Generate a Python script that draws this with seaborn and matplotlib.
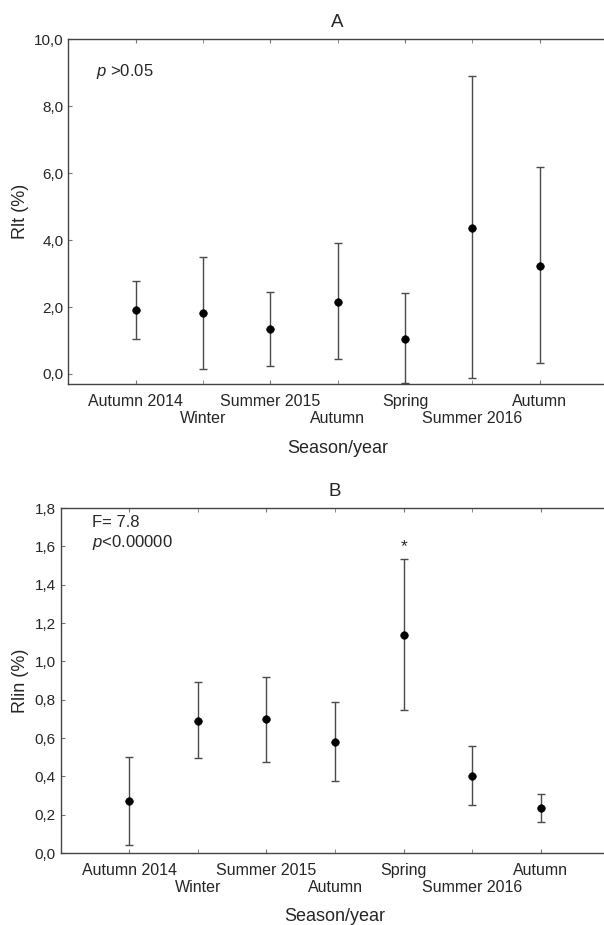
import numpy as np
import pandas as pd
import matplotlib
matplotlib.use("Agg")
import matplotlib.pyplot as plt
import seaborn as sns
from matplotlib.ticker import FuncFormatter, MultipleLocator, FixedLocator, FixedFormatter

# Season labels (shared by both panels)
seasons = ["Autumn 2014", "Winter", "Summer 2015", "Autumn", "Spring", "Summer 2016", "Autumn"]

# Panel A: Rlt (%) mean with lower / upper interval
rlt_mean = [1.91, 1.81, 1.34, 2.16, 1.05, 4.36, 3.22]
rlt_low = [1.04, 0.14, 0.24, 0.45, -0.28, -0.12, 0.32]
rlt_high = [2.79, 3.50, 2.45, 3.90, 2.41, 8.89, 6.18]

# Panel B: Rlin (%) mean with lower / upper interval
rlin_mean = [0.27, 0.688, 0.698, 0.578, 1.137, 0.404, 0.233]
rlin_low = [0.044, 0.498, 0.477, 0.376, 0.744, 0.253, 0.164]
rlin_high = [0.50, 0.89, 0.919, 0.789, 1.532, 0.559, 0.307]

sns.set_style("ticks")
plt.rcParams['font.family'] = ['Liberation Sans', 'DejaVu Sans']
plt.rcParams['mathtext.fontset'] = 'custom'
plt.rcParams['mathtext.rm'] = 'Liberation Sans'
plt.rcParams['mathtext.it'] = 'Liberation Sans:italic'

fig = plt.figure(figsize=(6.04, 9.25), dpi=100)
ax_a = fig.add_axes([0.1131, 0.5845, 0.892, 0.373])
ax_b = fig.add_axes([0.1002, 0.0778, 0.909, 0.373])

comma = FuncFormatter(lambda v, p: f"{v:.1f}".replace(".", ","))


def draw_panel(ax, mean, low, high, title, ylabel, ylim, ystep, ylab_x):
    pos = np.arange(1, len(mean) + 1)
    df = pd.DataFrame({"pos": pos, "mean": mean, "low": low, "high": high})
    yerr = [df["mean"] - df["low"], df["high"] - df["mean"]]
    ax.errorbar(df["pos"], df["mean"], yerr=yerr, fmt="none", ecolor="#4a4a4a",
                elinewidth=1, capsize=2.6, capthick=1, zorder=2)
    sns.scatterplot(data=df, x="pos", y="mean", color="black", edgecolor="black",
                    s=30, ax=ax, zorder=3, legend=False)
    ax.set_xlim(0, 8)
    ax.set_ylim(*ylim)
    ax.yaxis.set_major_locator(MultipleLocator(ystep))
    ax.yaxis.set_major_formatter(comma)

    # staggered labels: odd seasons on the first row, even ones on the second
    ax.xaxis.set_major_locator(FixedLocator(pos[::2]))
    ax.xaxis.set_major_formatter(FixedFormatter(seasons[::2]))
    ax.xaxis.set_minor_locator(FixedLocator(pos[1::2]))
    ax.xaxis.set_minor_formatter(FixedFormatter(seasons[1::2]))
    ax.tick_params(axis="x", which="both", direction="in", length=3, top=True,
                   color="#777777", labelsize=11.5)
    ax.tick_params(axis="x", which="major", pad=7)
    ax.tick_params(axis="x", which="minor", pad=19.5)
    ax.tick_params(axis="y", direction="in", length=3, pad=3.6, labelsize=11,
                   color="#777777")
    for side in ["left", "bottom", "top"]:
        ax.spines[side].set_color("#444444")
        ax.spines[side].set_linewidth(1)
    ax.spines["right"].set_visible(False)
    ax.set_title(title, fontsize=13.5, pad=9)
    ax.set_xlabel("Season/year", fontsize=13)
    ax.set_ylabel(ylabel, fontsize=13)
    ax.xaxis.set_label_coords(0.5, -0.160)
    ax.yaxis.set_label_coords(ylab_x, 0.5)
    return df


draw_panel(ax_a, rlt_mean, rlt_low, rlt_high, "A", "Rlt (%)", (-0.31, 10.0), 2.0, -0.073)
df_b = draw_panel(ax_b, rlin_mean, rlin_low, rlin_high, "B", "Rlin (%)", (0.0, 1.8), 0.2, -0.057)

ax_a.text(0.051, 0.906, r"$\mathit{p}$ >0.05", transform=ax_a.transAxes,
          fontsize=12, va="center", ha="left")
ax_b.text(0.057, 0.957, "F= 7.8", transform=ax_b.transAxes,
          fontsize=12, va="center", ha="left")
ax_b.text(0.057, 0.899, r"$\mathit{p}$<0.00000", transform=ax_b.transAxes,
          fontsize=12, va="center", ha="left")

# significance star above Spring
star = df_b.loc[df_b["mean"].idxmax()]
ax_b.annotate("*", xy=(star["pos"], star["high"]), xytext=(0, 5.6),
              textcoords="offset points", ha="center", va="baseline", fontsize=12.5)

fig.savefig("out.png", dpi=100)
plt.close(fig)
